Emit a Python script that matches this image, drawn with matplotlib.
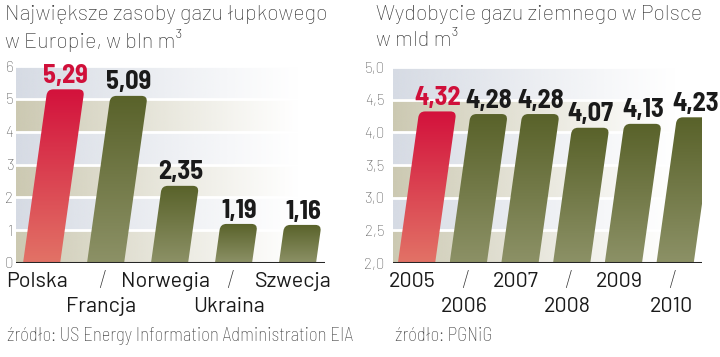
import numpy as np
import matplotlib
matplotlib.use('Agg')
import matplotlib.pyplot as plt
from matplotlib.path import Path
from matplotlib.patches import PathPatch
from matplotlib.colors import LinearSegmentedColormap

# data
countries = ['Polska', 'Francja', 'Norwegia', 'Ukraina', 'Szwecja']
reserves = [5.29, 5.09, 2.35, 1.19, 1.16]          # bln m3
years = ['2005', '2006', '2007', '2008', '2009', '2010']
production = [4.32, 4.28, 4.28, 4.07, 4.13, 4.23]  # mld m3

W, H = 720, 357
RED_CMAP = LinearSegmentedColormap.from_list('r', ['#e27266', '#d3123c'])
GRN_CMAP = LinearSegmentedColormap.from_list('g', ['#8c9166', '#59622a'])
SEMI = ['Barlow Semi Condensed', 'DejaVu Sans']
PLAIN = ['Barlow', 'DejaVu Sans']


def fmt(v, nd):
    return ('%.*f' % (nd, v)).replace('.', ',')


def draw_bands(ax, ymin, ymax, step):
    x0, x1 = ax.get_xlim()
    rows = np.linspace(ymin, ymax, 800, endpoint=False)
    band = ((rows - ymin) / step + 1e-9).astype(int)
    khaki = np.array([204, 201, 178]) / 255.
    grey = np.array([214, 219, 228]) / 255.
    t = np.linspace(0, 1, 300)
    alpha = np.clip(1 - t / 0.92, 0, 1) ** 1.1
    img = np.zeros((len(rows), len(t), 4))
    for i, b in enumerate(band):
        img[i, :, :3] = khaki if b % 2 == 0 else grey
        img[i, :, 3] = alpha
    ax.imshow(img, extent=(x0, x1, ymin, ymax), origin='lower',
              aspect='auto', zorder=0, interpolation='bilinear')
    for y in np.arange(ymin + step, ymax + step / 2, step):
        ax.axhline(y, color='white', lw=2, zorder=1)
    ax.axhline(ymin, color='#262626', lw=2.2, zorder=5)


def slanted_bar(ax, c, base, v, width, cmap, slope=0.14, rad=6):
    pos = ax.get_position()
    x0, x1 = ax.get_xlim()
    y0, y1 = ax.get_ylim()
    pxx = pos.width * W / (x1 - x0)
    pxy = pos.height * H / (y1 - y0)
    h_px = (v - base) * pxy
    s = slope * h_px / pxx                      # horizontal shift of the top
    dxdy = s / (v - base)
    rx, ry = rad / pxx, rad / pxy
    bl = c - width / 2
    br = c + width / 2
    tl = bl + s
    tr = br + s
    verts = [(bl, base), (tl - dxdy * ry, v - ry), (tl, v), (tl + rx, v),
             (tr - rx, v), (tr, v), (tr - dxdy * ry, v - ry), (br, base), (bl, base)]
    codes = [Path.MOVETO, Path.LINETO, Path.CURVE3, Path.CURVE3,
             Path.LINETO, Path.CURVE3, Path.CURVE3, Path.LINETO, Path.CLOSEPOLY]
    patch = PathPatch(Path(verts, codes), fc='none', ec='none', zorder=3)
    ax.add_patch(patch)
    grad = np.linspace(0, 1, 100).reshape(-1, 1)
    im = ax.imshow(grad, extent=(bl, tr, base, v), origin='lower', cmap=cmap,
                   aspect='auto', zorder=3)
    im.set_clip_path(patch)
    return c + s   # top center


def draw_chart(ax, labels, values, base, top, step, width, nd_tick, tick_pad):
    ax.set_ylim(base, top)
    draw_bands(ax, base, top, step)
    ax.set_ylim(base, top)
    for i, (lab, v) in enumerate(zip(labels, values)):
        cmap = RED_CMAP if i == 0 else GRN_CMAP
        top_c = slanted_bar(ax, i, base, v, width, cmap)
        color = '#d0103a' if i == 0 else '#1a1a1a'
        ax.annotate(fmt(v, 2), (top_c, v), xytext=(0, 1), textcoords='offset points',
                    ha='center', va='bottom', fontsize=19, fontweight='bold',
                    family=SEMI, color=color, zorder=6)
        if i % 2 == 0:
            ax.annotate(lab, (i, base), xytext=(-3, -13), textcoords='offset points',
                        ha='center', va='center', fontsize=15.5, family=PLAIN,
                        color='#1a1a1a', annotation_clip=False)
        else:
            ax.annotate(lab, (i, base), xytext=(-3, -31), textcoords='offset points',
                        ha='center', va='center', fontsize=15.5, family=PLAIN,
                        color='#1a1a1a', annotation_clip=False)
            ax.annotate('/', (i, base), xytext=(-2, -13), textcoords='offset points',
                        ha='center', va='center', fontsize=18, fontweight='light',
                        family=PLAIN, color='#333333', annotation_clip=False)
    ticks = np.arange(base, top + step / 2, step)
    ax.set_yticks(ticks)
    ax.set_yticklabels([fmt(t, nd_tick) for t in ticks], family=PLAIN,
                       fontweight='light', fontsize=11, color='#555555')
    ax.tick_params(axis='y', length=0, pad=tick_pad)
    ax.set_xticks([])
    for sp in ax.spines.values():
        sp.set_visible(False)


fig = plt.figure(figsize=(7.2, 3.57), dpi=100)

ax1 = fig.add_axes([16 / W, 1 - 263 / H, 309 / W, 197 / H])
ax1.set_xlim(-0.4, 4.43)
draw_chart(ax1, countries, reserves, 0, 6, 1, 0.58, 0, 2)

ax2 = fig.add_axes([393 / W, 1 - 263 / H, 309 / W, 196 / H])
ax2.set_xlim(-0.455, 5.52)
draw_chart(ax2, years, production, 2.0, 5.0, 0.5, 0.72, 1, 6)

title_kw = dict(fontsize=15.5, fontweight='light', color='#333333', family=PLAIN,
                va='center', ha='left')
fig.text(5 / W, 1 - 15 / H, 'Największe zasoby gazu łupkowego', **title_kw)
fig.text(5 / W, 1 - 40 / H, 'w Europie, w bln m³', **title_kw)
fig.text(376 / W, 1 - 15 / H, 'Wydobycie gazu ziemnego w Polsce', **title_kw)
fig.text(376 / W, 1 - 40 / H, 'w mld m³', **title_kw)

src_kw = dict(fontsize=13.5, fontweight='light', color='#444444', family=SEMI,
              va='center', ha='left')
fig.text(7 / W, 1 - 336 / H, 'źródło: US Energy Information Administration EIA', **src_kw)
fig.text(395 / W, 1 - 336 / H, 'źródło: PGNiG', **src_kw)

fig.savefig('out.png', dpi=100)
